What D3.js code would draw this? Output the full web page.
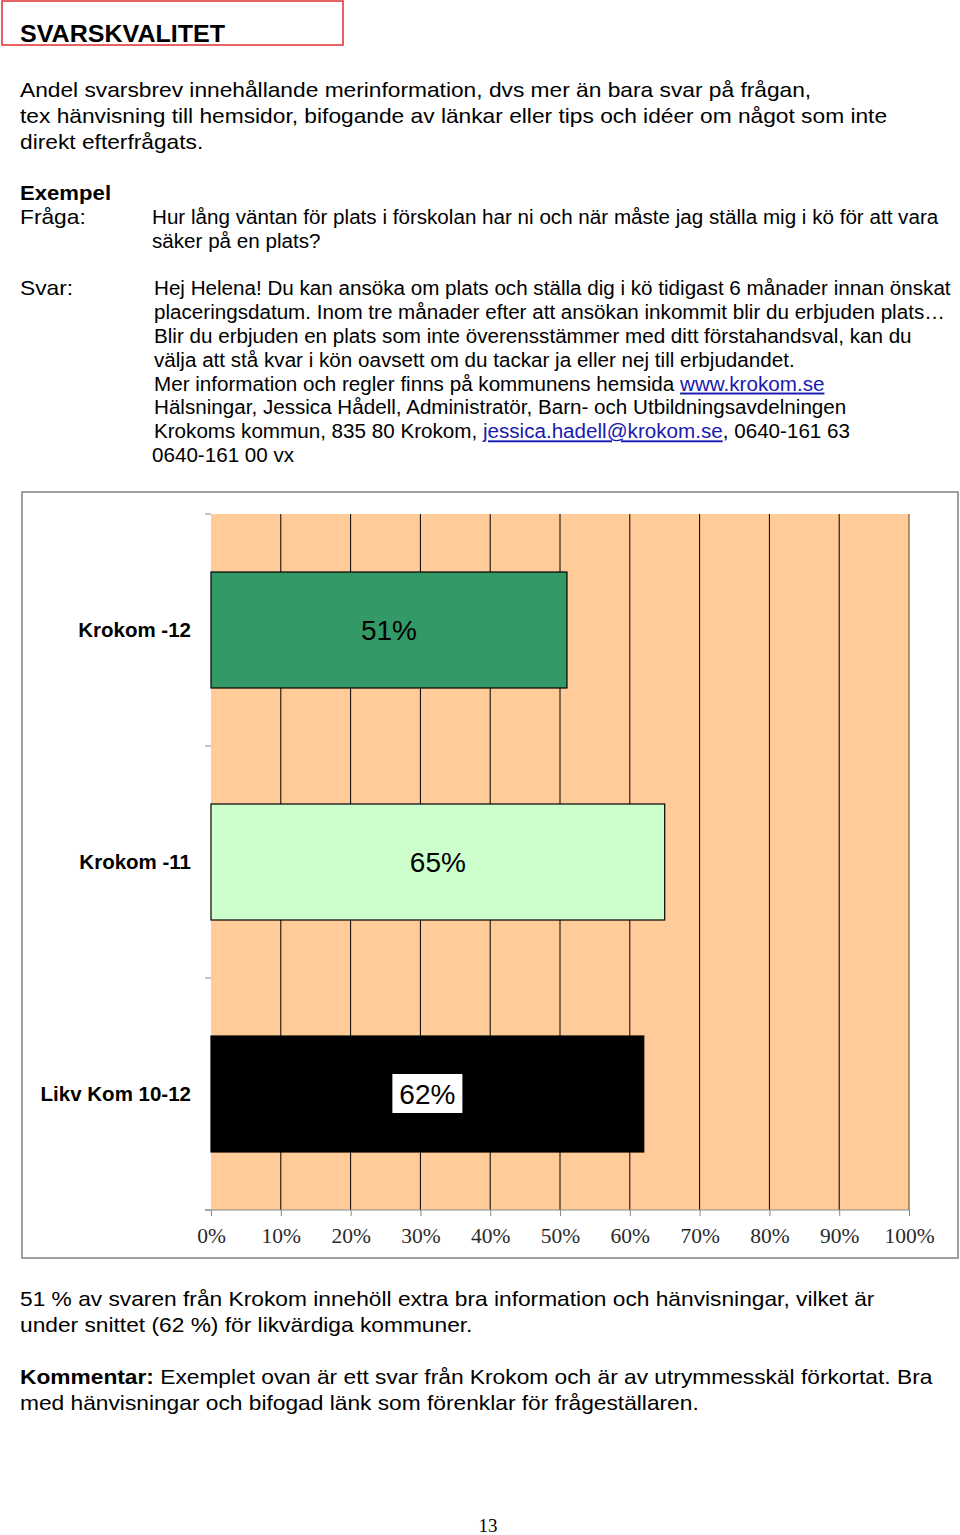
<!DOCTYPE html>
<html>
<head>
<meta charset="utf-8">
<script src="https://cdn.jsdelivr.net/npm/d3@7/dist/d3.min.js"></script>
<style>
  body { margin: 0; background: #fff; }
  svg text { font-family: "Liberation Sans", Arial, sans-serif; }
</style>
</head>
<body>
<div id="page"></div>
<script>
// chart data
var categories = ["Krokom -12", "Krokom -11", "Likv Kom 10-12"];
var values = [51, 65, 62];
var barColors = ["#339966", "#ccffcc", "#000000"];
var xTicks = [0, 10, 20, 30, 40, 50, 60, 70, 80, 90, 100];

var svg = d3.select("#page")
    .append("svg")
    .attr("width", 960)
    .attr("height", 1535);

// the scanned page text is a bit wider than Arial, so stretch it horizontally
function line(x, y, txt, size, bold, sx) {
    sx = sx || 1.11;
    return svg.append("text")
        .attr("x", x / sx).attr("y", y)
        .attr("transform", `scale(${sx},1)`)
        .attr("font-size", size || 20.5)
        .attr("font-weight", bold ? "bold" : null)
        .text(txt);
}

// heading box
svg.append("rect")
    .attr("x", 2).attr("y", 1)
    .attr("width", 341).attr("height", 44)
    .attr("fill", "none")
    .attr("stroke", "#e03030")
    .attr("stroke-width", 1.5);

line(20, 42, "SVARSKVALITET", 23, true, 1.09);

// intro text
line(20, 97, "Andel svarsbrev innehållande merinformation, dvs mer än bara svar på frågan,");
line(20, 123, "tex hänvisning till hemsidor, bifogande av länkar eller tips och idéer om något som inte");
line(20, 149, "direkt efterfrågats.");

line(20, 200, "Exempel", 20.5, true, 1.08);
line(20, 224, "Fråga:");
line(152, 224, "Hur lång väntan för plats i förskolan har ni och när måste jag ställa mig i kö för att vara", 19.5, false, 1.058);
line(152, 248, "säker på en plats?", 19.5, false, 1.058);
line(20, 295, "Svar:");

var answer = [
    "Hej Helena! Du kan ansöka om plats och ställa dig i kö tidigast 6 månader innan önskat",
    "placeringsdatum. Inom tre månader efter att ansökan inkommit blir du erbjuden plats…",
    "Blir du erbjuden en plats som inte överensstämmer med ditt förstahandsval, kan du",
    "välja att stå kvar i kön oavsett om du tackar ja eller nej till erbjudandet."
];
answer.forEach(function (t, i) {
    line(154, 295 + i * 23.9, t, 19.5, false, 1.058);
});

var l5 = line(154, 390.6, "Mer information och regler finns på kommunens hemsida ", 19.5, false, 1.058);
l5.append("tspan").attr("fill", "#1a1ab0").attr("text-decoration", "underline").text("www.krokom.se");
line(154, 414.5, "Hälsningar, Jessica Hådell, Administratör, Barn- och Utbildningsavdelningen", 19.5, false, 1.058);
var l7 = line(154, 438.4, "Krokoms kommun, 835 80 Krokom, ", 19.5, false, 1.058);
l7.append("tspan").attr("fill", "#1a1ab0").attr("text-decoration", "underline").text("jessica.hadell@krokom.se");
l7.append("tspan").text(", 0640-161 63");
line(152, 462, "0640-161 00 vx", 19.5, false, 1.058);

// chart frame
svg.append("rect")
    .attr("x", 22).attr("y", 492)
    .attr("width", 936).attr("height", 766)
    .attr("fill", "#fff")
    .attr("stroke", "#808080")
    .attr("stroke-width", 1.5);

var plotLeft = 211, plotRight = 909, plotTop = 514, plotBottom = 1210;

var x = d3.scaleLinear().domain([0, 100]).range([plotLeft, plotRight]);
var y = d3.scaleBand().domain(categories).range([plotTop, plotBottom]).paddingInner(0.5).paddingOuter(0.25);

var chartGroup = svg.append("g");

chartGroup.append("rect")
    .attr("x", plotLeft).attr("y", plotTop)
    .attr("width", plotRight - plotLeft).attr("height", plotBottom - plotTop)
    .attr("fill", "#ffcc99");

// vertical gridlines
chartGroup.selectAll(".grid")
    .data(xTicks.slice(1))
    .enter()
    .append("line")
    .attr("x1", d => x(d)).attr("x2", d => x(d))
    .attr("y1", plotTop).attr("y2", plotBottom)
    .attr("stroke", d => d === 100 ? "#5a3a1a" : "#000")
    .attr("stroke-width", 1);

// bars
chartGroup.selectAll(".bar")
    .data(values)
    .enter()
    .append("rect")
    .attr("x", x(0))
    .attr("y", (d, i) => y(categories[i]))
    .attr("width", d => x(d) - x(0))
    .attr("height", y.bandwidth())
    .attr("fill", (d, i) => barColors[i])
    .attr("stroke", "#000")
    .attr("stroke-width", 1.2);

// value labels
values.forEach(function (v, i) {
    var cx = (x(0) + x(v)) / 2;
    var cy = y(categories[i]) + y.bandwidth() / 2;
    if (barColors[i] === "#000000") {
        chartGroup.append("rect")
            .attr("x", cx - 35).attr("y", cy - 20)
            .attr("width", 70).attr("height", 39)
            .attr("fill", "#fff");
    }
    chartGroup.append("text")
        .attr("x", cx).attr("y", cy + 10)
        .attr("text-anchor", "middle")
        .attr("font-size", 28)
        .text(v + "%");
});

// bottom axis
var bottomAxis = d3.axisBottom(x)
    .tickValues(xTicks)
    .tickSize(6)
    .tickFormat(d => d + "%");

var xAxis = chartGroup.append("g")
    .attr("transform", `translate(0, ${plotBottom})`)
    .call(bottomAxis);

xAxis.select(".domain").attr("stroke", "#888").attr("d", `M${plotLeft - 6},0H${plotRight}`);
xAxis.selectAll(".tick line").attr("stroke", "#888");
xAxis.selectAll(".tick text")
    .attr("y", 18)
    .attr("fill", "#2a2a2a")
    .style("font-family", "'Liberation Serif', 'Times New Roman', serif")
    .style("font-size", "21.5px");

// left axis: category labels on the left
var leftAxis = d3.axisLeft(y).tickSize(0).tickPadding(20);
var yAxis = chartGroup.append("g")
    .attr("transform", `translate(${plotLeft}, 0)`)
    .call(leftAxis);
yAxis.select(".domain").remove();
yAxis.selectAll(".tick text")
    .style("font-size", "20.5px")
    .attr("font-weight", "bold")
    .attr("fill", "#000");

var step = (plotBottom - plotTop) / categories.length;
chartGroup.selectAll(".ytick")
    .data(d3.range(categories.length + 1))
    .enter()
    .append("line")
    .attr("x1", plotLeft - 6).attr("x2", plotLeft)
    .attr("y1", d => plotTop + d * step).attr("y2", d => plotTop + d * step)
    .attr("stroke", "#888");

// closing text
line(20, 1306, "51 % av svaren från Krokom innehöll extra bra information och hänvisningar, vilket är");
line(20, 1332, "under snittet (62 %) för likvärdiga kommuner.");
var k = line(20, 1384, "Kommentar:", 20.5, true);
k.append("tspan").attr("font-weight", "normal").text(" Exemplet ovan är ett svar från Krokom och är av utrymmesskäl förkortat. Bra");
line(20, 1410, "med hänvisningar och bifogad länk som förenklar för frågeställaren.");

svg.append("text")
    .attr("x", 488).attr("y", 1532)
    .attr("text-anchor", "middle")
    .style("font-family", "'Liberation Serif', 'Times New Roman', serif")
    .style("font-size", "19px")
    .text("13");
</script>
</body>
</html>
